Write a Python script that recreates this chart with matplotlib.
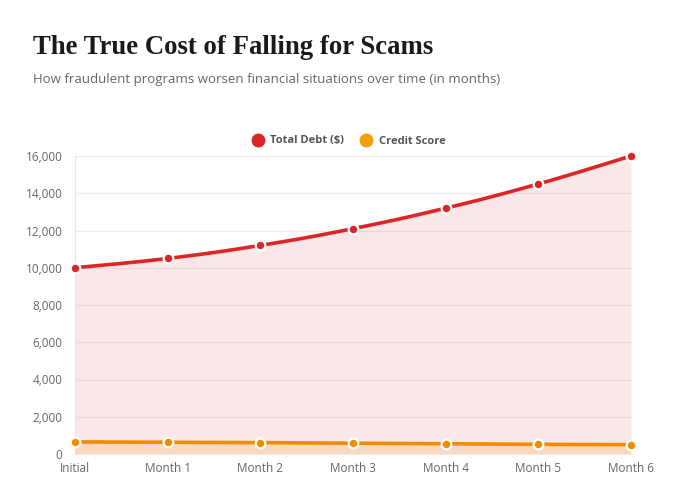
import matplotlib
matplotlib.use("Agg")
import matplotlib.pyplot as plt
import numpy as np
from matplotlib.lines import Line2D

labels = ["Initial", "Month 1", "Month 2", "Month 3", "Month 4", "Month 5", "Month 6"]
total_debt = [10000, 10500, 11200, 12100, 13200, 14500, 16000]
credit_score = [650, 630, 610, 580, 550, 520, 500]

RED = "#dc2626"
ORANGE = "#f59e0b"
ORANGE_LINE = "#f08c00"

def smooth(xs, ys, tension=0.4, n=20):
    xs = np.asarray(xs, float); ys = np.asarray(ys, float)
    outx, outy = [xs[0]], [ys[0]]
    m = len(xs)
    for i in range(m - 1):
        p0 = (xs[max(i-1, 0)], ys[max(i-1, 0)])
        p1 = (xs[i], ys[i]); p2 = (xs[i+1], ys[i+1])
        p3 = (xs[min(i+2, m-1)], ys[min(i+2, m-1)])
        c1 = (p1[0] + (p2[0]-p0[0])*tension/2, p1[1] + (p2[1]-p0[1])*tension/2)
        c2 = (p2[0] - (p3[0]-p1[0])*tension/2, p2[1] - (p3[1]-p1[1])*tension/2)
        t = np.linspace(0, 1, n)[1:]
        bx = (1-t)**3*p1[0] + 3*(1-t)**2*t*c1[0] + 3*(1-t)*t**2*c2[0] + t**3*p2[0]
        by = (1-t)**3*p1[1] + 3*(1-t)**2*t*c1[1] + 3*(1-t)*t**2*c2[1] + t**3*p2[1]
        outx.extend(bx); outy.extend(by)
    return np.array(outx), np.array(outy)

fig = plt.figure(figsize=(6.85, 4.96), dpi=100)
ax = fig.add_axes([75/685, 42/496, (631-75)/685, (454-156)/496])

x = np.arange(len(labels))
for vals, lc, fc, fa in [(total_debt, RED, RED, 0.11), (credit_score, ORANGE_LINE, ORANGE, 0.18)]:
    sx, sy = smooth(x, vals)
    ax.fill_between(sx, 0, sy, color=fc, alpha=fa, lw=0, zorder=1)
    ax.plot(sx, sy, color=lc, lw=2.6, zorder=3, solid_capstyle="round", clip_on=False)
    ax.plot(x, vals, "o", color=lc, ms=7, mec="white", mew=1.6, zorder=4, clip_on=False)

ax.set_xlim(0, 6)
ax.set_ylim(0, 16000)
ax.set_yticks(range(0, 16001, 2000))
ax.set_yticklabels([f"{v:,}" for v in range(0, 16001, 2000)])
ax.set_xticks(x)
ax.set_xticklabels(labels)
ax.grid(axis="y", color="#ececec", lw=0.8, zorder=0)
for s in ["top", "right", "bottom"]:
    ax.spines[s].set_visible(False)
ax.spines["left"].set_color("#e5e5e5")
ax.spines["left"].set_linewidth(0.8)
ax.tick_params(axis="both", length=0, colors="#666666", labelsize=8.5)
ax.tick_params(axis="y", pad=9)
ax.tick_params(axis="x", pad=6)
for t in ax.get_xticklabels() + ax.get_yticklabels():
    t.set_fontfamily("Open Sans")
    t.set_fontweight("medium")
ax.set_axisbelow(True)

fig.text(33/685, 1 - 48/496, "The True Cost of Falling for Scams", fontsize=19.3,
         fontweight="bold", family="Liberation Serif", color="#1a1a1a", va="center", ha="left")
fig.text(33/685, 1 - 80/496, "How fraudulent programs worsen financial situations over time (in months)",
         fontsize=9.5, family="Open Sans", color="#666666", va="center", ha="left")

handles = [Line2D([], [], ls="", marker="o", ms=9, color=RED),
           Line2D([], [], ls="", marker="o", ms=9, color=ORANGE)]
leg = fig.legend(handles, ["Total Debt ($)", "Credit Score"], loc="center",
                 bbox_to_anchor=(346/685, 1 - 141/496), ncol=2, frameon=False,
                 handletextpad=0.1, columnspacing=1.0,
                 prop={"family": "Open Sans", "weight": "bold", "size": 8})
for t in leg.get_texts():
    t.set_color("#555555")

fig.savefig("out.png", dpi=100, facecolor="white")
